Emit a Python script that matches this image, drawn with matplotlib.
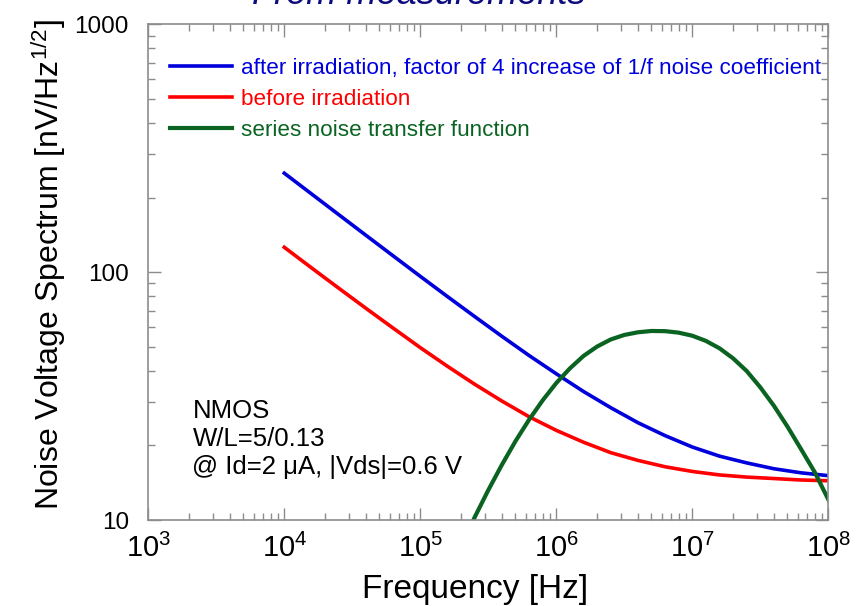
import numpy as np
import matplotlib
matplotlib.use("Agg")
import matplotlib.pyplot as plt
from matplotlib.ticker import LogLocator, FixedLocator, FixedFormatter, NullFormatter

plt.rcParams['font.family'] = ['Liberation Sans', 'DejaVu Sans']
plt.rcParams['mathtext.fontset'] = 'custom'
plt.rcParams['mathtext.rm'] = 'Liberation Sans'
plt.rcParams['mathtext.it'] = 'Liberation Sans:italic'

# ---- data (x given as log10 of frequency) ----
noise_logf = [4.0, 4.2, 4.4, 4.6, 4.8, 5.0, 5.2, 5.4, 5.6, 5.8, 6.0, 6.2, 6.4, 6.6, 6.8, 7.0,
              7.2, 7.4, 7.6, 7.8, 8.0]
after_vals = [250.8, 206.9, 170.7, 140.9, 116.4, 96.2, 79.7, 66.2, 55.1, 46.1, 38.9, 33.0, 28.4,
              24.7, 21.9, 19.7, 18.1, 17.0, 16.1, 15.5, 15.1]
before_vals = [126.0, 104.1, 86.2, 71.5, 59.5, 49.6, 41.7, 35.3, 30.2, 26.1, 23.0, 20.6, 18.7,
               17.4, 16.4, 15.7, 15.2, 14.9, 14.7, 14.5, 14.4]

tf_logf = [5.35, 5.4, 5.5, 5.6, 5.7, 5.8, 5.9, 6.0, 6.1, 6.2, 6.3, 6.4, 6.5, 6.6, 6.7, 6.8, 6.9,
           7.0, 7.1, 7.2, 7.3, 7.4, 7.5, 7.6, 7.7, 7.8, 7.9, 8.0]
tf_vals = [8.97, 10.26, 13.2, 16.7, 20.8, 25.4, 30.4, 35.7, 40.9, 45.9, 50.1, 53.5, 55.8, 57.2,
           57.9, 57.8, 57.0, 55.4, 52.8, 49.3, 44.9, 39.9, 34.3, 28.9, 23.8, 19.3, 15.6, 12.1]

labels = ["after irradiation, factor of 4 increase of 1/f noise coefficient",
          "before irradiation",
          "series noise transfer function"]
colors = ["#0000dd", "#ff0000", "#0a6321"]

ytick_vals = [10, 100, 1000]
ytick_labels = ["10", "100", "1000"]

note = "NMOS\nW/L=5/0.13\n@ Id=2 \u03bcA, |Vds|=0.6 V"

# ---- figure ----
fig = plt.figure(figsize=(8.63, 6.06), dpi=100)
ax = fig.add_axes([0.1718, 0.1419, 0.788, 0.818])

ax.plot(10 ** np.array(noise_logf), after_vals, color=colors[0], lw=2.6, label=labels[0])
ax.plot(10 ** np.array(noise_logf), before_vals, color=colors[1], lw=2.6, label=labels[1])
ax.plot(10 ** np.array(tf_logf), tf_vals, color=colors[2], lw=3.0, label=labels[2])

ax.set_xscale('log')
ax.set_yscale('log')
ax.set_xlim(1e3, 1e8)
ax.set_ylim(10, 1000)

ax.xaxis.set_major_locator(LogLocator(base=10, numticks=10))
ax.xaxis.set_minor_locator(LogLocator(base=10, subs=np.arange(2, 10), numticks=20))
ax.xaxis.set_minor_formatter(NullFormatter())
ax.yaxis.set_major_locator(FixedLocator(ytick_vals))
ax.yaxis.set_major_formatter(FixedFormatter(ytick_labels))
ax.yaxis.set_minor_locator(LogLocator(base=10, subs=np.arange(2, 10), numticks=20))
ax.yaxis.set_minor_formatter(NullFormatter())

for s in ax.spines.values():
    s.set_color('#8c8c8c')
    s.set_linewidth(1.2)
ax.tick_params(which='both', direction='in', top=True, right=True, colors='#8c8c8c',
               labelcolor='black')
ax.tick_params(which='major', length=9, width=1.0)
ax.tick_params(which='minor', length=5, width=1.0)
ax.tick_params(axis='x', pad=10, labelsize=21)
ax.tick_params(axis='y', pad=14, labelsize=17.5)

ax.set_xlabel("Frequency [Hz]", fontsize=24)
ax.set_ylabel("Noise Voltage Spectrum [nV/Hz$^{1/2}$]", fontsize=23)
ax.xaxis.set_label_coords(0.48, -0.108)
ax.yaxis.set_label_coords(-0.118, 0.516)

leg = ax.legend(loc='upper left', bbox_to_anchor=(0.019, 0.950), frameon=False, fontsize=16.2,
                handlelength=2.75, handletextpad=0.4, labelspacing=0.44, labelcolor='linecolor',
                borderaxespad=0.0)

ax.text(0.065, 0.244, note, transform=ax.transAxes, fontsize=18.5, va='top', ha='left',
        linespacing=1.2)

fig.text(0.485, 0.9935, "From measurements", fontsize=26, style='italic', color='#0c0c80',
         ha='center', va='baseline')

fig.savefig("out.png", dpi=100)
